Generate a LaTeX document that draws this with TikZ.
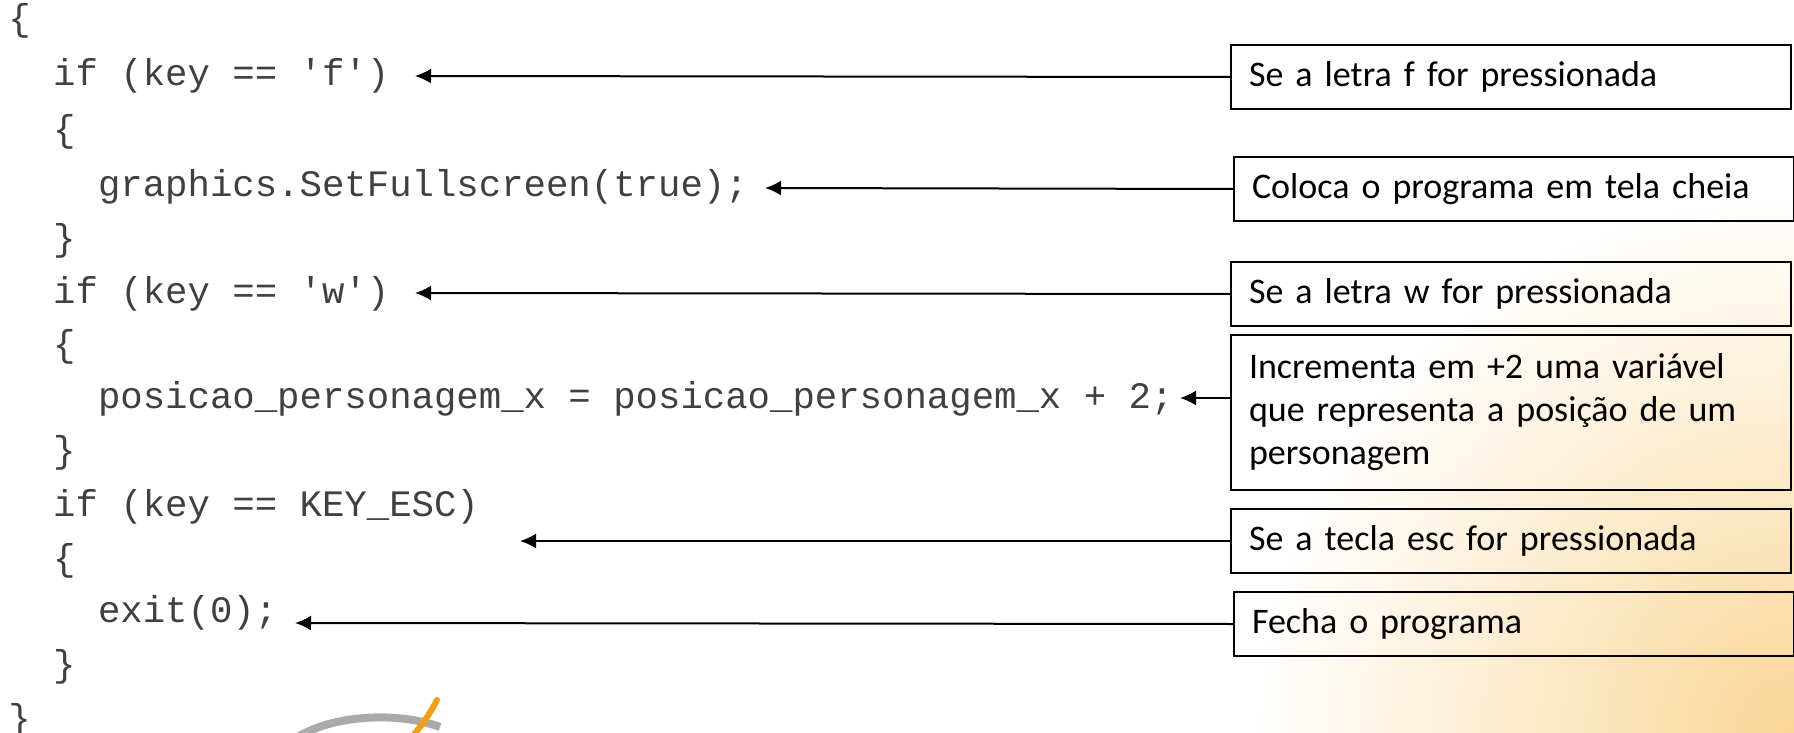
\documentclass[tikz,border=0pt]{standalone}
\usepackage{fontspec}
\setmainfont{Carlito}
\newfontfamily\codefont[Ligatures=TeXOff]{Liberation Mono}
\usetikzlibrary{arrows.meta}
\definecolor{bgorange}{RGB}{249,214,150}
\definecolor{logoorange}{RGB}{245,158,20}
\definecolor{logogray}{RGB}{170,170,170}
\begin{document}
\begin{tikzpicture}[x=0.5pt,y=-0.5pt,
  code/.style={font=\codefont\fontsize{18.67pt}{22pt}\selectfont, inner sep=0pt, anchor=base west, text=black!75},
  note/.style={draw=black, line width=1pt, anchor=north west, minimum width=280pt,
    minimum height=32pt, inner xsep=9pt, inner ysep=0pt, text width=262pt, align=left,
    font=\fontsize{18pt}{21.5pt}\selectfont},
  arr/.style={-{Latex[length=8pt,width=7.5pt]}, line width=1pt}]
\useasboundingbox (0,0) rectangle (1794,733);
% background tint
\begin{scope}
  \clip (0,0) rectangle (1794,733);
  \shade[inner color=bgorange, outer color=white] (1794,733) circle (270pt);
\end{scope}
% logo fragment
\draw[logogray, line width=4pt] (298,737) .. controls (335,714) and (400,712) .. (440,727);
\draw[logoorange, line width=3pt, line cap=round] (437,700) .. controls (430,714) and (421,726) .. (412,737);
% code
\node[code] (c0) at (8,31) {\{};
\node[code] (c1) at (52.8,86) {if (key == 'f')};
\node[code] (c2) at (52.8,141) {\{};
\node[code] (c3) at (97.6,197) {graphics.SetFullscreen(true);};
\node[code] (c4) at (52.8,250) {\}};
\node[code] (c5) at (52.8,303) {if (key == 'w')};
\node[code] (c6) at (52.8,356) {\{};
\node[code] (c7) at (97.6,408) {posicao\_personagem\_x = posicao\_personagem\_x + 2;};
\node[code] (c8) at (52.8,462) {\}};
\node[code] (c9) at (52.8,516) {if (key == KEY\_ESC)};
\node[code] (c10) at (52.8,570) {\{};
\node[code] (c11) at (97.6,622) {exit(0);};
\node[code] (c12) at (52.8,676) {\}};
\node[code] (c13) at (8,730) {\}};
% notes
\node[note] (b1) at (1230,44) {Se a letra f for pressionada};
\node[note] (b2) at (1233,156) {Coloca o programa em tela cheia};
\node[note] (b3) at (1230,261) {Se a letra w for pressionada};
\node[note, minimum height=77.5pt] (b4) at (1230,334) {Incrementa em +2 uma variável\\que representa a posição de um\\personagem};
\node[note] (b5) at (1230,508) {Se a tecla esc for pressionada};
\node[note] (b6) at (1233,591) {Fecha o programa};
% arrow targets
\coordinate (t1) at (415,76);
\coordinate (t2) at (765,188);
\coordinate (t3) at (415,293);
\coordinate (t4) at (1180,398);
\coordinate (s4) at ([yshift=-32pt]b4.north west);
\coordinate (t5) at (520,541);
\coordinate (t6) at (295,623);
\draw[arr] (b1.west) -- (t1);
\draw[arr] (b2.west) -- (t2);
\draw[arr] (b3.west) -- (t3);
\draw[arr] (s4) -- (t4);
\draw[arr] (b5.west) -- (t5);
\draw[arr] (b6.west) -- (t6);
\end{tikzpicture}
\end{document}
